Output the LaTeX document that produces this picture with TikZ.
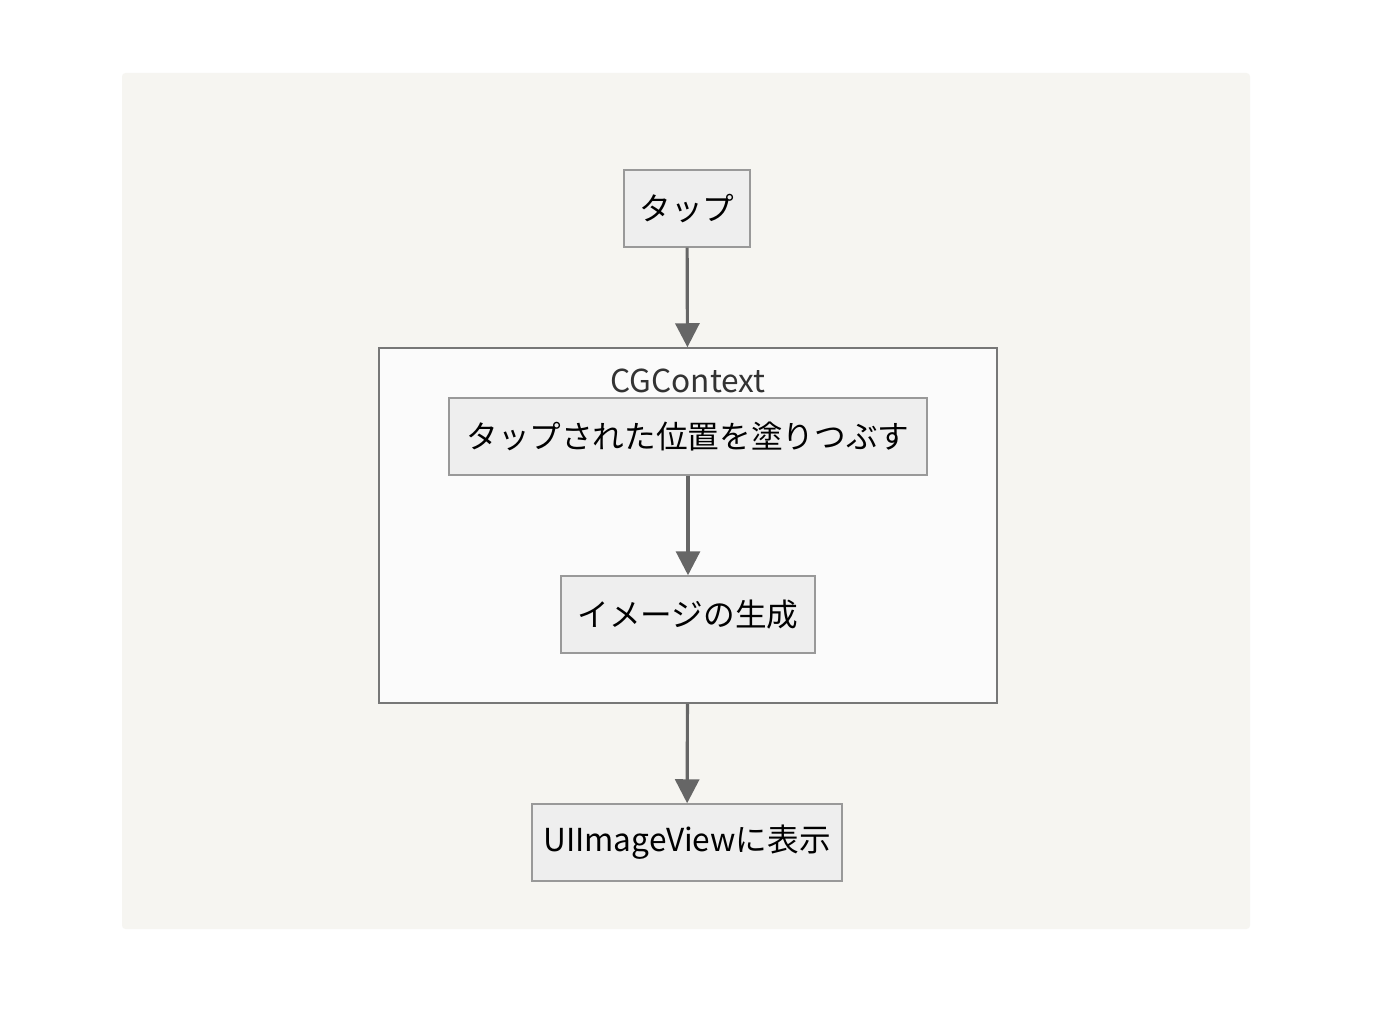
\documentclass[tikz,border=0pt]{standalone}
\usepackage{fontspec}
\setmainfont{Noto Sans CJK JP}
\usetikzlibrary{arrows.meta}
\definecolor{panelbg}{HTML}{F6F5F1}
\definecolor{boxfill}{HTML}{EEEEEE}
\definecolor{boxline}{HTML}{999999}
\definecolor{clusterfill}{HTML}{FBFBFB}
\definecolor{clusterline}{HTML}{777777}
\definecolor{arrowline}{HTML}{666666}
\tikzset{
  stepbox/.style={draw=boxline, fill=boxfill, line width=0.85pt, minimum height=77*0.02cm,
    inner sep=0pt, font=\fontsize{18}{22}\selectfont},
  flow/.style={draw=arrowline, line width=1.8pt, -{Triangle[width=0.48cm,length=0.48cm]}}
}
\begin{document}
\begin{tikzpicture}[x=0.02cm,y=-0.02cm]
      % Frame
      \useasboundingbox (0,0) rectangle (1378,1026);
      \fill[white] (0,0) rectangle (1378,1026);
      \fill[panelbg, rounded corners=2pt] (122,73) rectangle (1250,929);
      % Cluster
      \node[draw=clusterline, fill=clusterfill, line width=0.85pt, minimum width=618*0.02cm,
        minimum height=355*0.02cm, inner sep=0pt] (ctx) at (688,525.5) {};
      \node[font=\fontsize{18}{22}\selectfont, text=black!80] (ctxlabel) at (688,381) {CGContext};
      % Steps
      \node[stepbox, minimum width=126*0.02cm] (tap) at (687,208.5) {タップ};
      \node[stepbox, minimum width=478*0.02cm] (paint) at (688,436.5) {タップされた位置を塗りつぶす};
      \node[stepbox, minimum width=254*0.02cm] (image) at (688,614.5) {イメージの生成};
      \node[stepbox, minimum width=310*0.02cm] (show) at (687,842.5) {UIImageViewに表示};
      % Arrows
      \draw[flow] (tap) -- (ctx);
      \draw[flow] (paint) -- (image);
      \draw[flow] (ctx) -- (show);
    \end{tikzpicture}
\end{document}
